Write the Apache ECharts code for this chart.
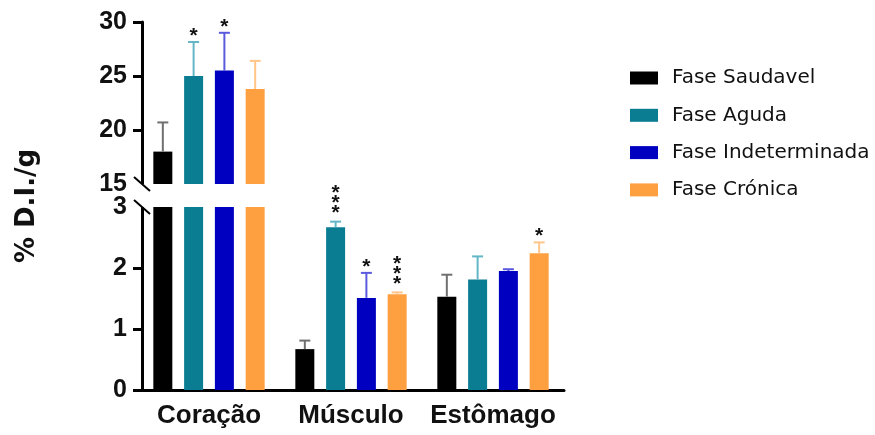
<!DOCTYPE html>
<html>
<head>
<meta charset="utf-8">
<script src="https://cdn.jsdelivr.net/npm/echarts@6/dist/echarts.min.js"></script>
<style>
  html, body { margin: 0; padding: 0; background: #fff; }
  #chart { width: 875px; height: 435px; }
</style>
</head>
<body>
<div id="chart"></div>
<script>
// Organs on the x axis
const categories = ['Coração', 'Músculo', 'Estômago'];
const phaseNames = ['Fase Saudavel', 'Fase Aguda', 'Fase Indeterminada', 'Fase Crónica'];

// Mean %D.I./g per organ
const saudavel      = [18.0, 0.67, 1.53];
const aguda         = [25.0, 2.67, 1.81];
const indeterminada = [25.5, 1.51, 1.95];
const cronica       = [23.8, 1.57, 2.24];

// Standard deviation (upper error bar)
const saudavelSd      = [2.7, 0.14, 0.36];
const agudaSd         = [3.15, 0.09, 0.38];
const indeterminadaSd = [3.5, 0.41, 0.03];
const cronicaSd       = [2.6, 0.03, 0.18];

// Number of significance asterisks above each bar
const saudavelStars      = [0, 0, 0];
const agudaStars         = [1, 3, 0];
const indeterminadaStars = [1, 1, 0];
const cronicaStars       = [0, 3, 1];

// Broken y axis: lower and upper segments
const lowerTicks = [0, 1, 2, 3];
const upperTicks = [15, 20, 25, 30];

const means = [saudavel, aguda, indeterminada, cronica];
const sds = [saudavelSd, agudaSd, indeterminadaSd, cronicaSd];
const stars = [saudavelStars, agudaStars, indeterminadaStars, cronicaStars];

const barColors = ['#000000', '#0b7d93', '#0000c0', '#ffa040'];
const errColors = ['#707070', '#62b6c6', '#5a5ade', '#ffc58a'];

const BAR_W = 19;
const BAR_GAP = 0.62;
const step = BAR_W * (1 + BAR_GAP);

const lowMin = lowerTicks[0], lowMax = lowerTicks[lowerTicks.length - 1];
const upMin = upperTicks[0], upMax = upperTicks[upperTicks.length - 1];

const chart = echarts.init(document.getElementById('chart'));

function errorRenderer(seriesIdx) {
  const offset = (seriesIdx - 1.5) * step;
  return function (params, api) {
    const ci = api.value(0), m = api.value(1), e = api.value(2), n = api.value(3);
    const base = api.coord([ci, m]);
    const top = api.coord([ci, m + e]);
    const x = base[0] + offset;
    const col = errColors[seriesIdx];
    const children = [
      { type: 'line', shape: { x1: x, y1: base[1], x2: x, y2: top[1] },
        style: { stroke: col, lineWidth: 2 } },
      { type: 'line', shape: { x1: x - 5.5, y1: top[1], x2: x + 5.5, y2: top[1] },
        style: { stroke: col, lineWidth: 2 } }
    ];
    if (n > 0) {
      children.push({
        type: 'text',
        x: x, y: top[1] - (n > 1 ? 3 : 1),
        style: {
          text: Array(n).fill('*').join('\n'),
          fill: '#111',
          font: 'bold 21px "Liberation Sans", Arial, sans-serif',
          lineHeight: 10,
          align: 'center',
          verticalAlign: 'bottom'
        }
      });
    }
    return { type: 'group', children: children };
  };
}

const series = [];
phaseNames.forEach(function (name, i) {
  // upper segment bars (only values reaching above the break)
  series.push({
    name: name, type: 'bar', xAxisIndex: 0, yAxisIndex: 0,
    data: means[i].map(function (v) { return v > upMin ? v : null; }),
    barWidth: BAR_W, barGap: (BAR_GAP * 100) + '%',
    itemStyle: { color: barColors[i] }, clip: true, silent: true
  });
  // lower segment bars
  series.push({
    name: name, type: 'bar', xAxisIndex: 1, yAxisIndex: 1,
    data: means[i].slice(),
    barWidth: BAR_W, barGap: (BAR_GAP * 100) + '%',
    itemStyle: { color: barColors[i] }, clip: true, silent: true
  });
  const upperErr = [], lowerErr = [];
  means[i].forEach(function (m, ci) {
    const item = [ci, m, sds[i][ci], stars[i][ci]];
    if (m > upMin) upperErr.push(item);
    else if (m + sds[i][ci] <= lowMax) lowerErr.push(item);
  });
  series.push({
    name: name + ' DP', type: 'custom', xAxisIndex: 0, yAxisIndex: 0,
    data: upperErr, encode: { x: 0, y: 1 }, renderItem: errorRenderer(i), z: 5, silent: true
  });
  series.push({
    name: name + ' DP', type: 'custom', xAxisIndex: 1, yAxisIndex: 1,
    data: lowerErr, encode: { x: 0, y: 1 }, renderItem: errorRenderer(i), z: 5, silent: true
  });
});

const axisFont = { fontFamily: '"Liberation Sans", Arial, sans-serif', fontWeight: 'bold', color: '#111' };

const option = {
  animation: false,
  backgroundColor: '#ffffff',
  grid: [
    { left: 138, width: 426, top: 22, height: 162 },
    { left: 138, width: 426, top: 207, height: 183 }
  ],
  xAxis: [
    { type: 'category', gridIndex: 0, data: categories, show: false },
    {
      type: 'category', gridIndex: 1, data: categories,
      axisLine: { lineStyle: { color: '#000', width: 3 } },
      axisTick: { alignWithLabel: true, length: 10, lineStyle: { color: '#000', width: 3 } },
      axisLabel: Object.assign({ fontSize: 26, margin: 13, interval: 0 }, axisFont)
    }
  ],
  yAxis: [
    {
      type: 'value', gridIndex: 0, min: upMin, max: upMax, interval: 5, offset: -4,
      splitLine: { show: false },
      axisLine: { show: true, lineStyle: { color: '#000', width: 3 } },
      axisTick: { show: true, length: 9, customValues: upperTicks.slice(1), lineStyle: { color: '#000', width: 3 } },
      axisLabel: Object.assign({ fontSize: 25, margin: 15, customValues: upperTicks }, axisFont)
    },
    {
      type: 'value', gridIndex: 1, min: lowMin, max: lowMax, interval: 1, offset: -4,
      splitLine: { show: false },
      axisLine: { show: true, lineStyle: { color: '#000', width: 3 } },
      axisTick: { show: true, length: 9, customValues: lowerTicks.slice(0, -1), lineStyle: { color: '#000', width: 3 } },
      axisLabel: Object.assign({ fontSize: 25, margin: 15, customValues: lowerTicks }, axisFont)
    }
  ],
  legend: {
    data: phaseNames,
    orient: 'vertical',
    left: 625, top: 63,
    itemWidth: 28, itemHeight: 13, itemGap: 17.3,
    icon: 'rect',
    selectedMode: false,
    textStyle: {
      fontFamily: '"DejaVu Sans", sans-serif', fontSize: 20, color: '#111',
      lineHeight: 20, padding: [0, 0, 0, 9]
    }
  },
  series: series
};

chart.setOption(option);

// Axis title and break marks, positioned from the axes themselves
function placeOverlay() {
  const upperBreak = chart.convertToPixel({ xAxisIndex: 0, yAxisIndex: 0 }, [0, upMin]);
  const lowerBreak = chart.convertToPixel({ xAxisIndex: 1, yAxisIndex: 1 }, [0, lowMax]);
  const gridLeft = option.grid[1].left + 4;
  const upY = upperBreak[1], lowY = lowerBreak[1];
  const midY = (chart.convertToPixel({ yAxisIndex: 0 }, upMax) + chart.convertToPixel({ yAxisIndex: 1 }, lowMin)) / 2;
  chart.setOption({
    graphic: [
      { type: 'rect', shape: { x: gridLeft - 3, y: upY, width: 6, height: lowY - upY }, style: { fill: '#fff' }, z: 90 },
      { type: 'line', shape: { x1: gridLeft - 8, y1: upY - 7, x2: gridLeft + 8, y2: upY + 7 }, style: { stroke: '#000', lineWidth: 2 }, z: 100 },
      { type: 'line', shape: { x1: gridLeft - 8, y1: lowY - 7, x2: gridLeft + 8, y2: lowY + 7 }, style: { stroke: '#000', lineWidth: 2 }, z: 100 },
      {
        type: 'text', x: 27, y: midY, rotation: Math.PI / 2, z: 100,
        style: {
          text: '% D.I./g', fill: '#111',
          font: 'bold 26px "DejaVu Sans", sans-serif',
          align: 'center', verticalAlign: 'middle'
        }
      }
    ]
  });
}
placeOverlay();
</script>
</body>
</html>
